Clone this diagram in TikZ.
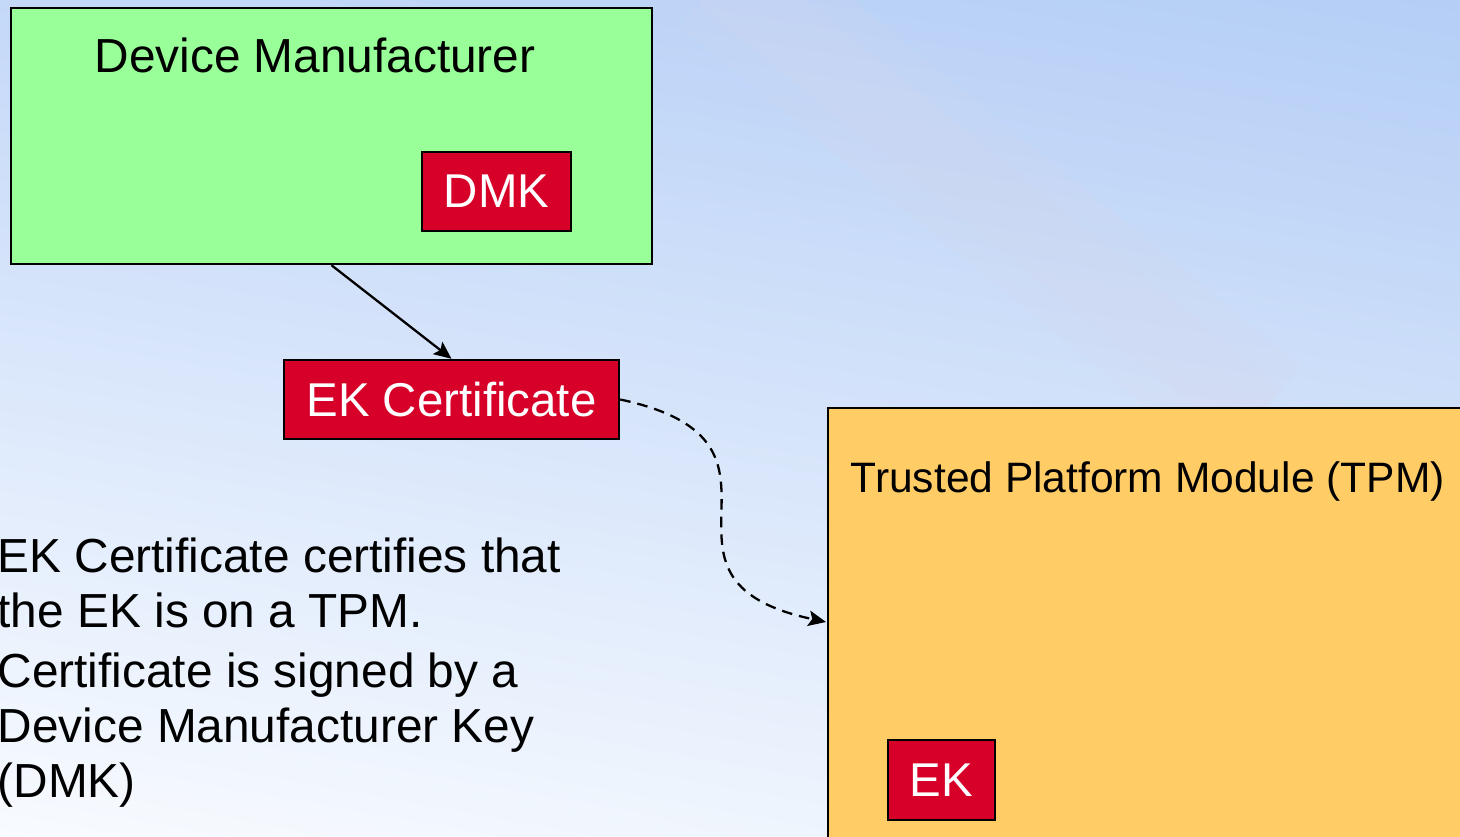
\documentclass[tikz,border=0pt]{standalone}
\usepackage{fontspec}
\setmainfont{Liberation Sans}
\usetikzlibrary{arrows.meta}
\usetikzlibrary{shadings}
\definecolor{bgtl}{HTML}{C4D8F8}
\definecolor{bgtr}{HTML}{B4CEF6}
\definecolor{bgbl}{HTML}{F8FBFF}
\definecolor{bgbr}{HTML}{E8F0FC}
\definecolor{streak}{HTML}{DAD6EA}
\definecolor{dmgreen}{HTML}{99FF99}
\definecolor{keyred}{HTML}{D60029}
\definecolor{tpmorange}{HTML}{FFCC66}
\tikzset{box/.style={ % Plain outlined rectangle
      draw, line width=0.7pt, inner sep=0pt},
      key/.style={ % Red key boxes
      box, fill=keyred, text=white,
      font=\fontsize{13.5}{16}\selectfont,
      minimum height=0.79cm},
      boxtitle/.style={inner sep=0pt,
      font=\fontsize{13.6}{16}\selectfont},
      every edge/.style={ % Connectors
            draw,
      -{Stealth[length=5pt, width=4.4pt, inset=1pt]},
      line width=0.65pt}}

\begin{document}
\begin{tikzpicture}
      \useasboundingbox (0,0) rectangle (14.6,8.36);
      \clip (0,0) rectangle (14.6,8.36);
      % background
      \shade[upper left=bgtl, upper right=bgtr, lower left=bgbl, lower right=bgbr] (0,0) rectangle (14.6,8.36);
      \draw[line width=1.3cm, color=streak, opacity=0.15] (7.2,8.6) -- (12.6,4.2);
      \draw[line width=0.7cm, color=streak, opacity=0.15] (7.2,8.6) -- (12.6,4.2);
      % device manufacturer
      \node[box, fill=dmgreen, minimum width=6.41cm, minimum height=2.56cm] (dm) at (3.315,7.0) {};
      \node[boxtitle, anchor=base] (dmtitle) at (3.15,7.64) {Device Manufacturer};
      \node[key, minimum width=1.49cm] (dmk) at (4.965,6.445) {DMK};
      \node[key, minimum width=3.35cm] (cert) at (4.515,4.365) {EK Certificate};
      % trusted platform module
      \node[box, fill=tpmorange, anchor=north west, minimum width=7cm, minimum height=5cm] (tpm) at (8.27,4.29) {};
      \node[boxtitle, anchor=base west, font=\fontsize{12.1}{14}\selectfont] (tpmtitle) at (8.5,3.44) {Trusted Platform Module (TPM)};
      \node[key, minimum width=1.07cm, minimum height=0.8cm] (ek) at (9.415,0.56) {EK};
      \coordinate (tpmin) at (8.26,2.14);
      % note (base is the last line)
      \node[boxtitle, anchor=base west, align=left, font=\fontsize{13.6}{15.65}\selectfont] (note) at (-0.03,0.39)
            {EK Certificate certifies that\\ the EK is on a TPM.\\[1.2pt]
             Certificate is signed by a\\ Device Manufacturer Key\\ (DMK)};
      \draw (dm.south) edge (cert.north);
      \draw (cert.east) edge[dash pattern=on 3pt off 2pt, out=-12, in=168, looseness=1.75] (tpmin);
\end{tikzpicture}
\end{document}
